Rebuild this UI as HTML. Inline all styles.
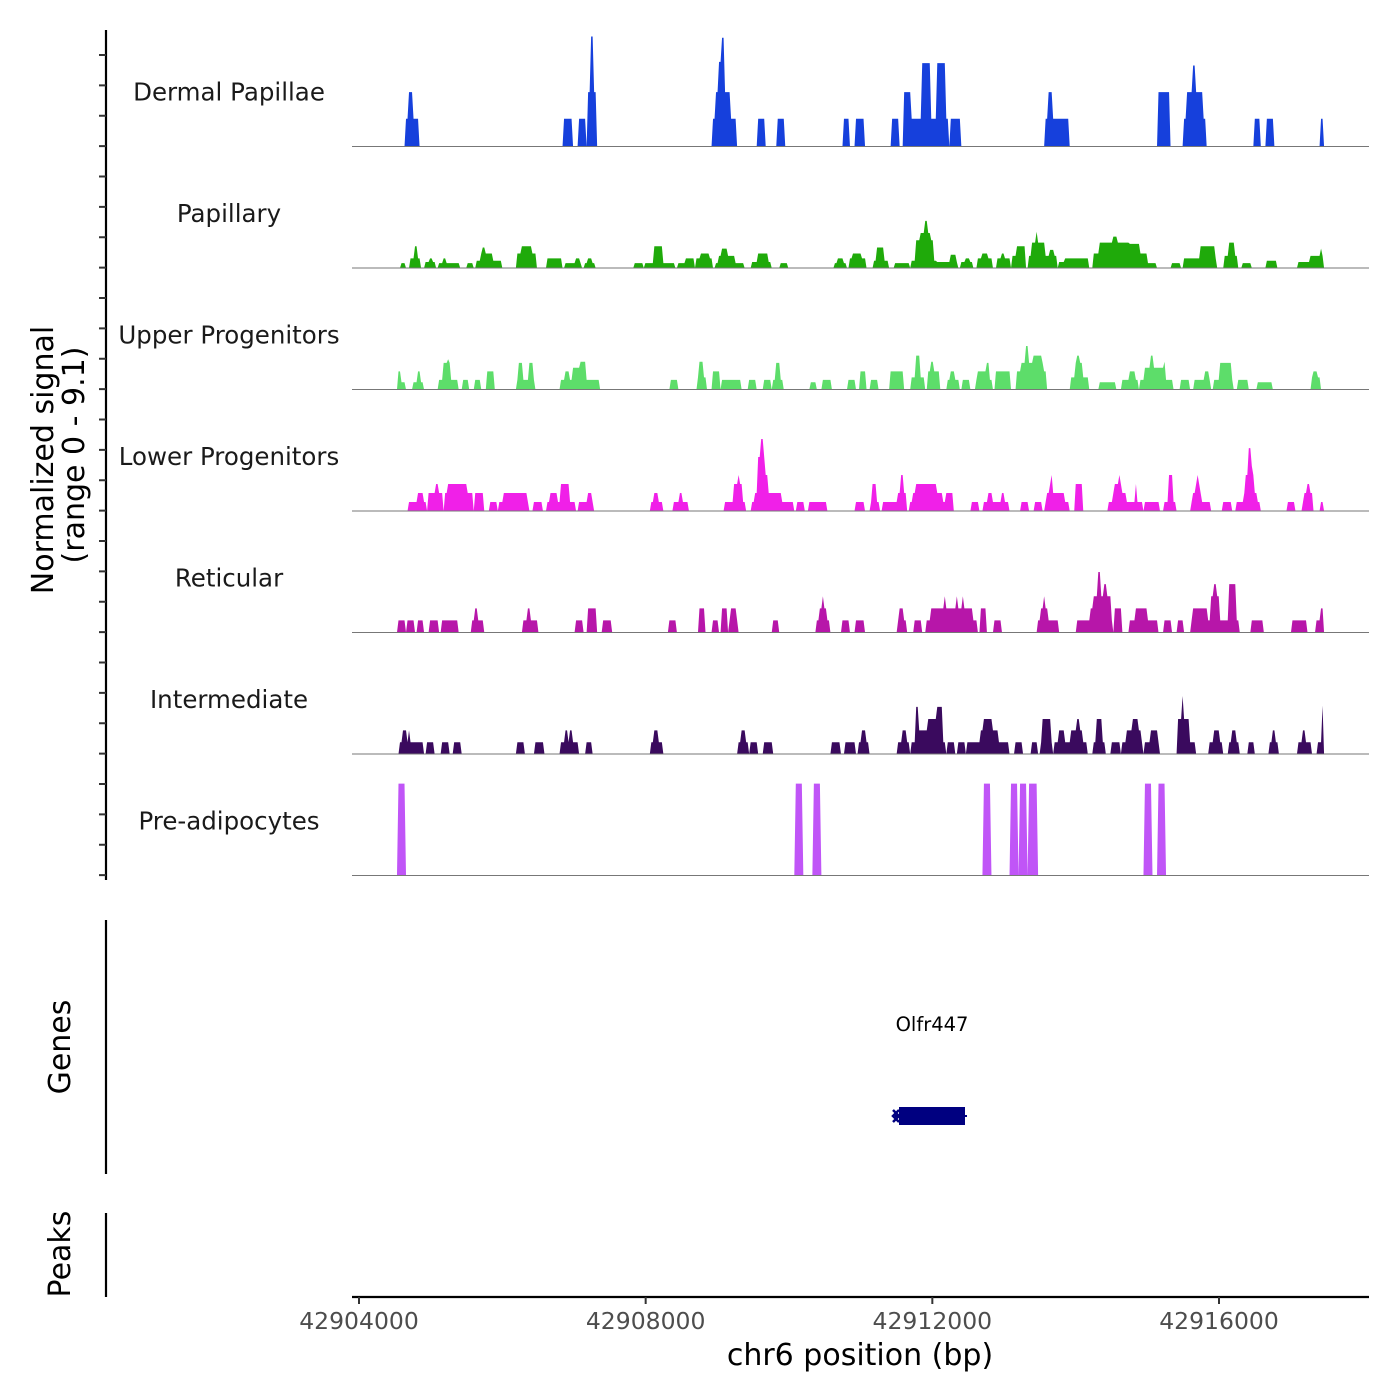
<!DOCTYPE html>
<html><head><meta charset="utf-8"><style>
html,body{margin:0;padding:0;background:#fff;}
svg{display:block;font-family:"DejaVu Sans","Liberation Sans",sans-serif;}
</style></head><body>
<svg id="chart" width="1400" height="1400" viewBox="0 0 1400 1400" xmlns="http://www.w3.org/2000/svg">
<g id="tracks"></g>
<g id="yaxis">
<line x1="106" y1="30" x2="106" y2="880" stroke="#000" stroke-width="2.2"/>
</g>
<text transform="translate(53,460) rotate(-90)" text-anchor="middle" font-size="30" fill="#000">Normalized signal</text>
<text transform="translate(84,455) rotate(-90)" text-anchor="middle" font-size="30" fill="#000">(range 0 - 9.1)</text>
<line x1="106" y1="920" x2="106" y2="1174" stroke="#000" stroke-width="2.2"/>
<text transform="translate(70,1047) rotate(-90)" text-anchor="middle" font-size="30" fill="#000">Genes</text>
<line x1="106" y1="1213" x2="106" y2="1297" stroke="#000" stroke-width="2.2"/>
<text transform="translate(70,1254) rotate(-90)" text-anchor="middle" font-size="30" fill="#000">Peaks</text>
<g id="gene">
<text x="932" y="1031" text-anchor="middle" font-size="19.5" fill="#000">Olfr447</text>
<line x1="895" y1="1116" x2="967" y2="1116" stroke="#000080" stroke-width="2"/>
<rect x="899" y="1107" width="66" height="18" fill="#000080"/>
<path d="M899,1110 L893,1116 L899,1122 M893,1110 L899,1116 L893,1122" fill="none" stroke="#000080" stroke-width="2.5"/>
</g>
<g id="xaxis">
<line x1="352" y1="1297" x2="1369" y2="1297" stroke="#000" stroke-width="2.2"/>
</g>
<text x="860" y="1365" text-anchor="middle" font-size="30" fill="#000">chr6 position (bp)</text>
</svg>
<script>
const regionStart = 42904000;
const xTicks = [42904000, 42908000, 42912000, 42916000];
const xTickLabels = ["42904000", "42908000", "42912000", "42916000"];
const trackNames = ["Dermal Papillae","Papillary","Upper Progenitors","Lower Progenitors","Reticular","Intermediate","Pre-adipocytes"];
const trackColors = ["#1640dc","#1faa0a","#5ddd6a","#f020e8","#b716a9","#3a0a5e","#c055f7"];
const yMax = 9.1;
// segments: [startOffsetBp, endOffsetBp, signal]
const dermalPapillae = [[642,824,2.3],[698,753,4.5],[2846,2985,2.3],[3069,3167,2.3],[3181,3320,4.5],[3236,3264,9.1],[4938,5273,2.3],[4980,5175,4.5],[5022,5106,7],[5064,5092,9],[5566,5664,2.3],[5831,5943,2.3],[6752,6849,2.3],[6933,7059,2.3],[7435,7533,2.3],[7589,7700,4.5],[7700,7854,2.3],[7854,7979,6.9],[7979,8049,2.3],[8049,8175,6.9],[8175,8217,2.3],[8245,8384,2.3],[9570,9905,2.3],[9612,9681,4.5],[11146,11313,4.5],[11495,11816,2.3],[11551,11774,4.5],[11635,11663,6.7],[12486,12583,2.3],[12667,12764,2.3],[13420,13448,2.3]];
const papillary = [[574,642,0.4],[711,865,0.8],[767,823,1.8],[921,1074,0.5],[977,1018,0.8],[1116,1269,0.4],[1172,1214,0.8],[1283,1409,0.4],[1507,1590,0.4],[1632,1995,0.6],[1688,1855,1.2],[1716,1758,1.7],[2190,2469,1.2],[2260,2413,1.8],[2623,2832,0.8],[2874,3111,0.4],[3013,3083,0.8],[3153,3292,0.4],[3195,3250,0.8],[3836,3962,0.4],[3990,4408,0.4],[4101,4241,1.8],[4450,4673,0.4],[4562,4673,0.8],[4701,4924,0.8],[4757,4896,1.2],[4980,5371,0.4],[5008,5245,1.0],[5064,5134,1.6],[5482,5747,0.5],[5552,5706,1.2],[5873,5985,0.4],[6640,6794,0.4],[6682,6752,0.8],[6836,7073,0.8],[6891,7017,1.2],[7170,7380,0.6],[7226,7324,1.7],[7477,7673,0.4],[7700,8063,0.6],[7756,8007,2.3],[7826,7979,2.9],[7896,7924,3.9],[8063,8356,0.5],[8258,8328,1.1],[8398,8565,0.5],[8454,8510,0.8],[8621,8830,0.8],[8691,8775,1.2],[8900,9081,0.8],[8970,8998,1.2],[9109,9291,1.0],[9179,9291,1.8],[9333,9737,1.0],[9374,9570,2.1],[9444,9472,3.0],[9626,9695,1.5],[9765,10170,0.5],[9835,10170,0.8],[10253,10993,1.2],[10337,10755,2.1],[10518,10588,2.6],[10686,10895,2.0],[11007,11118,0.4],[11341,11453,0.4],[11495,11969,0.8],[11732,11941,1.8],[12067,12262,1.0],[12123,12206,2.1],[12318,12443,0.4],[12667,12806,0.6],[13099,13448,0.5],[13266,13448,1.0],[13406,13434,1.6]];
const upperProgenitors = [[544,586,1.5],[544,642,0.6],[753,893,0.6],[809,851,1.5],[1116,1381,0.8],[1172,1269,2.2],[1228,1256,2.5],[1437,1521,0.8],[1604,1688,0.8],[1772,1883,1.5],[2190,2455,0.8],[2218,2288,2.2],[2358,2427,2.2],[2818,3348,0.8],[2874,2943,1.5],[2971,3153,1.8],[3083,3167,2.3],[4352,4436,0.8],[4715,4841,1.0],[4743,4813,2.3],[4938,5036,1.5],[5050,5329,0.8],[5440,5538,0.8],[5636,5747,0.8],[5761,5915,0.8],[5803,5873,2.2],[6305,6375,0.6],[6459,6598,0.8],[6822,6933,0.8],[6989,7073,1.5],[7128,7240,0.8],[7407,7589,1.5],[7700,7896,1.0],[7756,7826,2.8],[7924,8091,1.5],[7965,8021,2.3],[8203,8370,0.8],[8258,8300,1.5],[8412,8510,0.8],[8607,8844,0.8],[8635,8802,1.5],[8761,8789,2.2],[8886,9095,1.5],[9179,9598,1.5],[9235,9542,2.2],[9305,9333,3.6],[9402,9528,2.8],[9918,10183,1.0],[9988,10100,2.2],[10016,10044,2.8],[10323,10560,0.6],[10644,10867,0.8],[10755,10825,1.5],[10895,11355,0.8],[10965,11244,1.8],[11034,11076,2.8],[11230,11258,2.3],[11467,11579,0.8],[11648,11871,0.8],[11788,11857,1.5],[11927,12192,0.8],[12011,12178,2.2],[12262,12402,0.8],[12527,12750,0.6],[13280,13406,1.0],[13308,13364,1.5]];
const lowerProgenitors = [[684,949,0.74],[823,893,1.49],[963,1172,1.49],[1060,1102,2.23],[1200,1590,1.49],[1242,1507,2.23],[1618,1730,1.49],[1814,1925,0.74],[1953,2372,0.74],[2009,2344,1.49],[2441,2553,0.74],[2623,3027,0.74],[2664,2776,1.49],[2804,2943,2.23],[3055,3278,0.74],[3181,3250,1.49],[4059,4227,0.74],[4101,4171,1.49],[4380,4590,0.74],[4464,4506,1.49],[5106,5385,0.74],[5217,5343,2.23],[5287,5315,2.98],[5468,6054,0.74],[5524,5901,1.49],[5552,5706,2.98],[5566,5664,4.47],[5608,5636,5.96],[6110,6208,0.74],[6278,6529,0.74],[6933,7059,0.74],[7128,7268,0.74],[7156,7226,2.23],[7310,7644,0.74],[7505,7644,1.49],[7547,7603,2.98],[7686,8286,0.74],[7714,8133,1.49],[7756,7924,2.23],[7938,8063,2.23],[8189,8286,1.49],[8537,8649,0.74],[8719,9067,0.74],[8775,8830,1.49],[8970,8998,1.49],[9235,9347,0.74],[9416,9528,0.74],[9570,9905,0.74],[9598,9849,1.49],[9626,9681,2.23],[9653,9667,2.98],[9988,10086,2.23],[10448,10937,0.74],[10518,10714,1.49],[10546,10644,2.23],[10602,10616,2.98],[10839,10853,2.23],[10965,11174,0.74],[11230,11397,0.74],[11286,11355,2.98],[11607,11885,0.74],[11635,11760,1.49],[11663,11732,2.23],[11691,11705,2.98],[12053,12178,0.74],[12234,12569,0.74],[12346,12527,1.49],[12374,12499,2.98],[12402,12471,3.72],[12416,12457,5.2],[12946,13057,0.74],[13155,13314,0.74],[13183,13308,1.49],[13225,13266,2.23],[13420,13448,0.74]];
const reticular = [[544,642,1],[670,781,1],[809,907,1],[990,1116,1],[1158,1381,1],[1576,1730,1],[1618,1646,2],[2274,2497,1],[2344,2385,2],[3013,3125,1],[3195,3306,2],[3404,3515,1],[4325,4422,1],[4743,4827,2],[4924,5008,1],[5050,5134,2],[5162,5287,1],[5189,5273,2],[5761,5859,1],[6389,6557,1],[6417,6529,2],[6459,6487,3],[6738,6836,1],[6933,7059,1],[7505,7644,1],[7533,7589,2],[7742,7854,1],[7910,8621,1],[7965,8565,2],[8161,8189,3],[8328,8356,3],[8412,8440,3],[8663,8747,2],[8858,8970,1],[9472,9751,1],[9514,9612,2],[9556,9570,3],[10002,10518,1],[10197,10504,2],[10253,10504,3],[10309,10337,5],[10393,10421,4],[10532,10644,2],[10755,11146,1],[10825,11007,2],[11230,11341,1],[11425,11509,1],[11607,12276,1],[11620,11830,2],[11871,12011,3],[11927,11955,4],[12123,12234,4],[12457,12625,1],[13015,13225,1],[13350,13448,1],[13406,13448,2]];
const intermediate = [[558,907,0.97],[614,656,1.95],[698,711,1.95],[949,1046,0.97],[1158,1256,0.97],[1311,1423,0.97],[2190,2302,0.97],[2455,2567,0.97],[2818,3055,0.97],[2874,2916,1.95],[2943,2985,1.95],[3167,3250,0.97],[4059,4227,0.97],[4115,4171,1.95],[5287,5427,0.97],[5329,5385,1.95],[5454,5552,0.97],[5650,5761,0.97],[6598,6724,0.97],[6780,6919,0.97],[6961,7114,0.97],[7017,7073,1.95],[7505,7686,0.97],[7575,7631,1.95],[7700,8189,0.97],[7756,7868,1.95],[7770,7812,3.9],[7868,8147,1.95],[7924,8147,2.9],[7965,7979,4.8],[8063,8133,3.9],[8203,8300,0.97],[8356,8454,0.97],[8482,9067,0.97],[8719,8830,2.9],[8844,8914,1.95],[8677,8705,1.95],[9151,9263,0.97],[9374,9472,0.97],[9500,9681,0.97],[9528,9653,2.9],[9584,9598,3.9],[9695,10156,0.97],[9751,9849,1.95],[9793,9807,2.9],[9918,10100,1.95],[10002,10058,2.9],[10253,10407,0.97],[10295,10365,2.9],[10504,10630,0.97],[10644,10937,0.97],[10714,10923,1.95],[10797,10881,2.9],[10965,11174,0.97],[11034,11146,1.95],[11411,11663,0.97],[11425,11592,2.9],[11481,11509,4.8],[11857,12053,0.97],[11913,12011,1.95],[12137,12276,0.97],[12178,12234,1.95],[12402,12499,0.97],[12695,12834,0.97],[12737,12792,1.95],[13099,13280,0.97],[13169,13211,1.95],[13364,13448,0.97],[13434,13448,4.0]];
const preAdipocytes = [[544,642,7.6],[6082,6180,7.6],[6333,6431,7.6],[8705,8816,7.6],[9095,9193,7.6],[9207,9319,7.6],[9347,9458,7.6],[10951,11062,7.6],[11146,11258,7.6]];
const trackData = [dermalPapillae, papillary, upperProgenitors, lowerProgenitors, reticular, intermediate, preAdipocytes];

const NS = "http://www.w3.org/2000/svg";
const pxPerBp = 860 / 12000;
function xScale(bp){ return 359 + (bp - 42904000) * pxPerBp; }
const trackTop0 = 25, trackH = 121.5, plotH = 110;
function baseY(i){ return trackTop0 + (i + 1) * trackH; }
function yScale(i, v){ return baseY(i) - v / yMax * plotH; }

const gTracks = document.getElementById('tracks');
trackData.forEach((segs, i) => {
  const g = document.createElementNS(NS, 'g');
  
  
  const step = 21;
  let d = 'M' + xScale(regionStart - 100).toFixed(2) + ',' + baseY(i);
  for (let p = -100; p <= 13600; p += step) {
    let v = 0;
    for (const s of segs) { if (p >= s[0] && p <= s[1] && s[2] > v) v = s[2]; }
    d += ' L' + xScale(regionStart + p).toFixed(2) + ',' + yScale(i, v).toFixed(2);
  }
  d += ' L' + xScale(regionStart + 13600).toFixed(2) + ',' + baseY(i) + ' Z';
  const path = document.createElementNS(NS, 'path');
  path.setAttribute('d', d);
  path.setAttribute('fill', trackColors[i]);
  
  
  g.appendChild(path);
  const base = document.createElementNS(NS, 'line');
  base.setAttribute('x1', 352); base.setAttribute('x2', 1369);
  base.setAttribute('y1', baseY(i)); base.setAttribute('y2', baseY(i));
  base.setAttribute('stroke', '#777'); base.setAttribute('stroke-width', '1');
  
  
  g.appendChild(base);
  const lab = document.createElementNS(NS, 'text');
  lab.setAttribute('x', 229); lab.setAttribute('y', baseY(i) - 46);
  lab.setAttribute('text-anchor', 'middle'); lab.setAttribute('font-size', '24.5');
  lab.setAttribute('fill', '#1a1a1a');
  
  
  lab.textContent = trackNames[i];
  g.appendChild(lab);
  gTracks.appendChild(g);
});

const gy = document.getElementById('yaxis');
for (let y = 55; y <= 880; y += 30.375) {
  const t = document.createElementNS(NS, 'line');
  t.setAttribute('x1', 99); t.setAttribute('x2', 106);
  t.setAttribute('y1', y); t.setAttribute('y2', y);
  t.setAttribute('stroke', '#333'); t.setAttribute('stroke-width', '2');
  
  
  gy.appendChild(t);
}

const gx = document.getElementById('xaxis');
xTicks.forEach((v, k) => {
  const x = xScale(v);
  const t = document.createElementNS(NS, 'line');
  t.setAttribute('x1', x); t.setAttribute('x2', x);
  t.setAttribute('y1', 1297); t.setAttribute('y2', 1304);
  t.setAttribute('stroke', '#333'); t.setAttribute('stroke-width', '2');
  
  
  gx.appendChild(t);
  const l = document.createElementNS(NS, 'text');
  l.setAttribute('x', x); l.setAttribute('y', 1329);
  l.setAttribute('text-anchor', 'middle'); l.setAttribute('font-size', '23.5');
  l.setAttribute('fill', '#4d4d4d');
  
  
  l.textContent = xTickLabels[k];
  gx.appendChild(l);
});
</script>
</body></html>
